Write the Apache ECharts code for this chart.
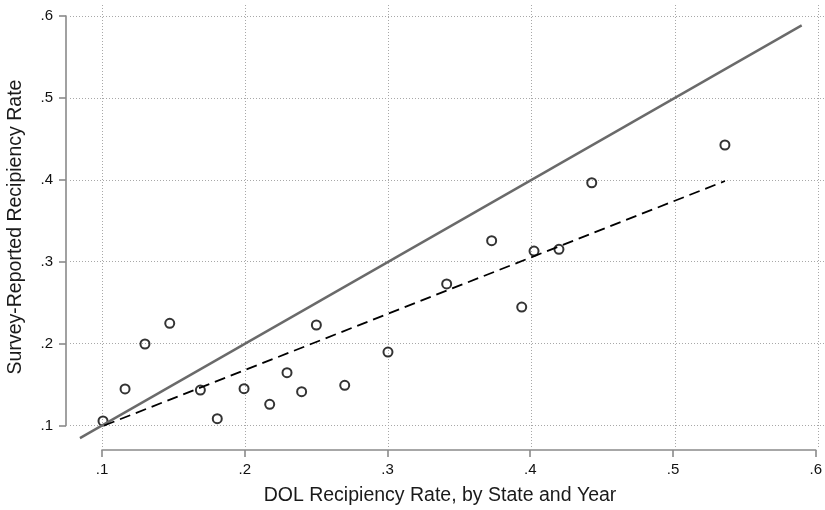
<!DOCTYPE html>
<html>
<head>
<meta charset="utf-8">
<script src="https://cdn.jsdelivr.net/npm/echarts@6/dist/echarts.min.js"></script>
<style>html,body{margin:0;padding:0;background:#fff}#c{width:825px;height:510px}</style>
</head>
<body>
<div id="c"></div>
<script>
// Data
var dolRate = [0.1007, 0.1161, 0.1300, 0.1473, 0.1687, 0.1805, 0.1992, 0.2171, 0.2292, 0.2394,
               0.2497, 0.2695, 0.2997, 0.3407, 0.3721, 0.3931, 0.4017, 0.4191, 0.4420, 0.5350];
var surveyRate = [0.1055, 0.1446, 0.1995, 0.2248, 0.1433, 0.1083, 0.1449, 0.1259, 0.1645, 0.1413,
                  0.2227, 0.1490, 0.1897, 0.2728, 0.3257, 0.2446, 0.3130, 0.3151, 0.3964, 0.4425];
var fitX = [0.1015, 0.535];
var fitY = [0.1000, 0.3985];
var diagX = [0.0846, 0.5886];
var diagY = [0.0846, 0.5886];
var tickValues = [0.1, 0.2, 0.3, 0.4, 0.5, 0.6];
var xTitle = 'DOL Recipiency Rate, by State and Year';
var yTitle = 'Survey-Reported Recipiency Rate';

var pts = dolRate.map(function (x, i) { return [x, surveyRate[i]]; });
var fit = fitX.map(function (x, i) { return [x, fitY[i]]; });
var diag = diagX.map(function (x, i) { return [x, diagY[i]]; });

var FONT = '"Liberation Sans", Arial, Helvetica, sans-serif';
var fmt = function (v) { return (+v).toFixed(1).replace(/^0/, ''); };
var gridLine = { show: true, lineStyle: { color: '#a8a8a8', width: 1, type: [1, 2] } };

var chart = echarts.init(document.getElementById('c'), null, { renderer: 'canvas' });
chart.setOption({
  animation: false,
  backgroundColor: '#fff',
  grid: [
    { left: 70, right: 0, top: 5, bottom: 63 },
    { left: 102, width: 716, top: 449, height: 1 },
    { left: 66, width: 1, top: 16, height: 409.5 }
  ],
  xAxis: [
    { type: 'value', gridIndex: 0, min: 0.1 - 32 / 1432, max: 0.6 + 7 / 1432,
      axisLine: { show: false }, axisLabel: { show: false },
      axisTick: { show: false, customValues: tickValues },
      splitLine: gridLine },
    { type: 'value', gridIndex: 1, min: 0.1, max: 0.6, interval: 0.1,
      axisLine: { show: true, onZero: false, lineStyle: { color: '#8a8a8a', width: 1.6 } },
      axisTick: { show: true, length: 7, lineStyle: { color: '#8a8a8a', width: 1.6 } },
      axisLabel: { show: true, margin: 12, formatter: fmt, color: '#111', fontSize: 15, fontFamily: FONT },
      splitLine: { show: false } },
    { type: 'value', gridIndex: 2, show: false }
  ],
  yAxis: [
    { type: 'value', gridIndex: 0, min: 0.1 - 21.5 / 819, max: 0.6 + 11 / 819,
      axisLine: { show: false }, axisLabel: { show: false },
      axisTick: { show: false, customValues: tickValues },
      splitLine: gridLine },
    { type: 'value', gridIndex: 1, show: false },
    { type: 'value', gridIndex: 2, min: 0.1, max: 0.6, interval: 0.1,
      axisLine: { show: true, onZero: false, lineStyle: { color: '#8a8a8a', width: 1.6 } },
      axisTick: { show: true, length: 7, lineStyle: { color: '#8a8a8a', width: 1.6 } },
      axisLabel: { show: true, margin: 13, formatter: fmt, color: '#111', fontSize: 15, fontFamily: FONT },
      splitLine: { show: false } }
  ],
  series: [
    { type: 'line', xAxisIndex: 0, yAxisIndex: 0, data: diag, symbol: 'none', clip: false,
      lineStyle: { color: '#6a6a6a', width: 2.4 } },
    { type: 'line', xAxisIndex: 0, yAxisIndex: 0, data: fit, symbol: 'none', clip: false,
      lineStyle: { color: '#000', width: 1.8, type: [11, 6] } },
    { type: 'scatter', xAxisIndex: 0, yAxisIndex: 0, data: pts, symbol: 'circle', symbolSize: 9,
      itemStyle: { color: 'rgba(0,0,0,0)', borderColor: '#000', borderWidth: 2 } }
  ],
  graphic: [
    { type: 'text', x: 440, y: 496,
      style: { text: xTitle, font: '19.5px ' + FONT, fill: '#1a1a1a', align: 'center', verticalAlign: 'middle' } },
    { type: 'text', x: 16, y: 227, rotation: Math.PI / 2,
      style: { text: yTitle, font: '19.5px ' + FONT, fill: '#1a1a1a', align: 'center', verticalAlign: 'middle' } }
  ]
});
</script>
</body>
</html>
